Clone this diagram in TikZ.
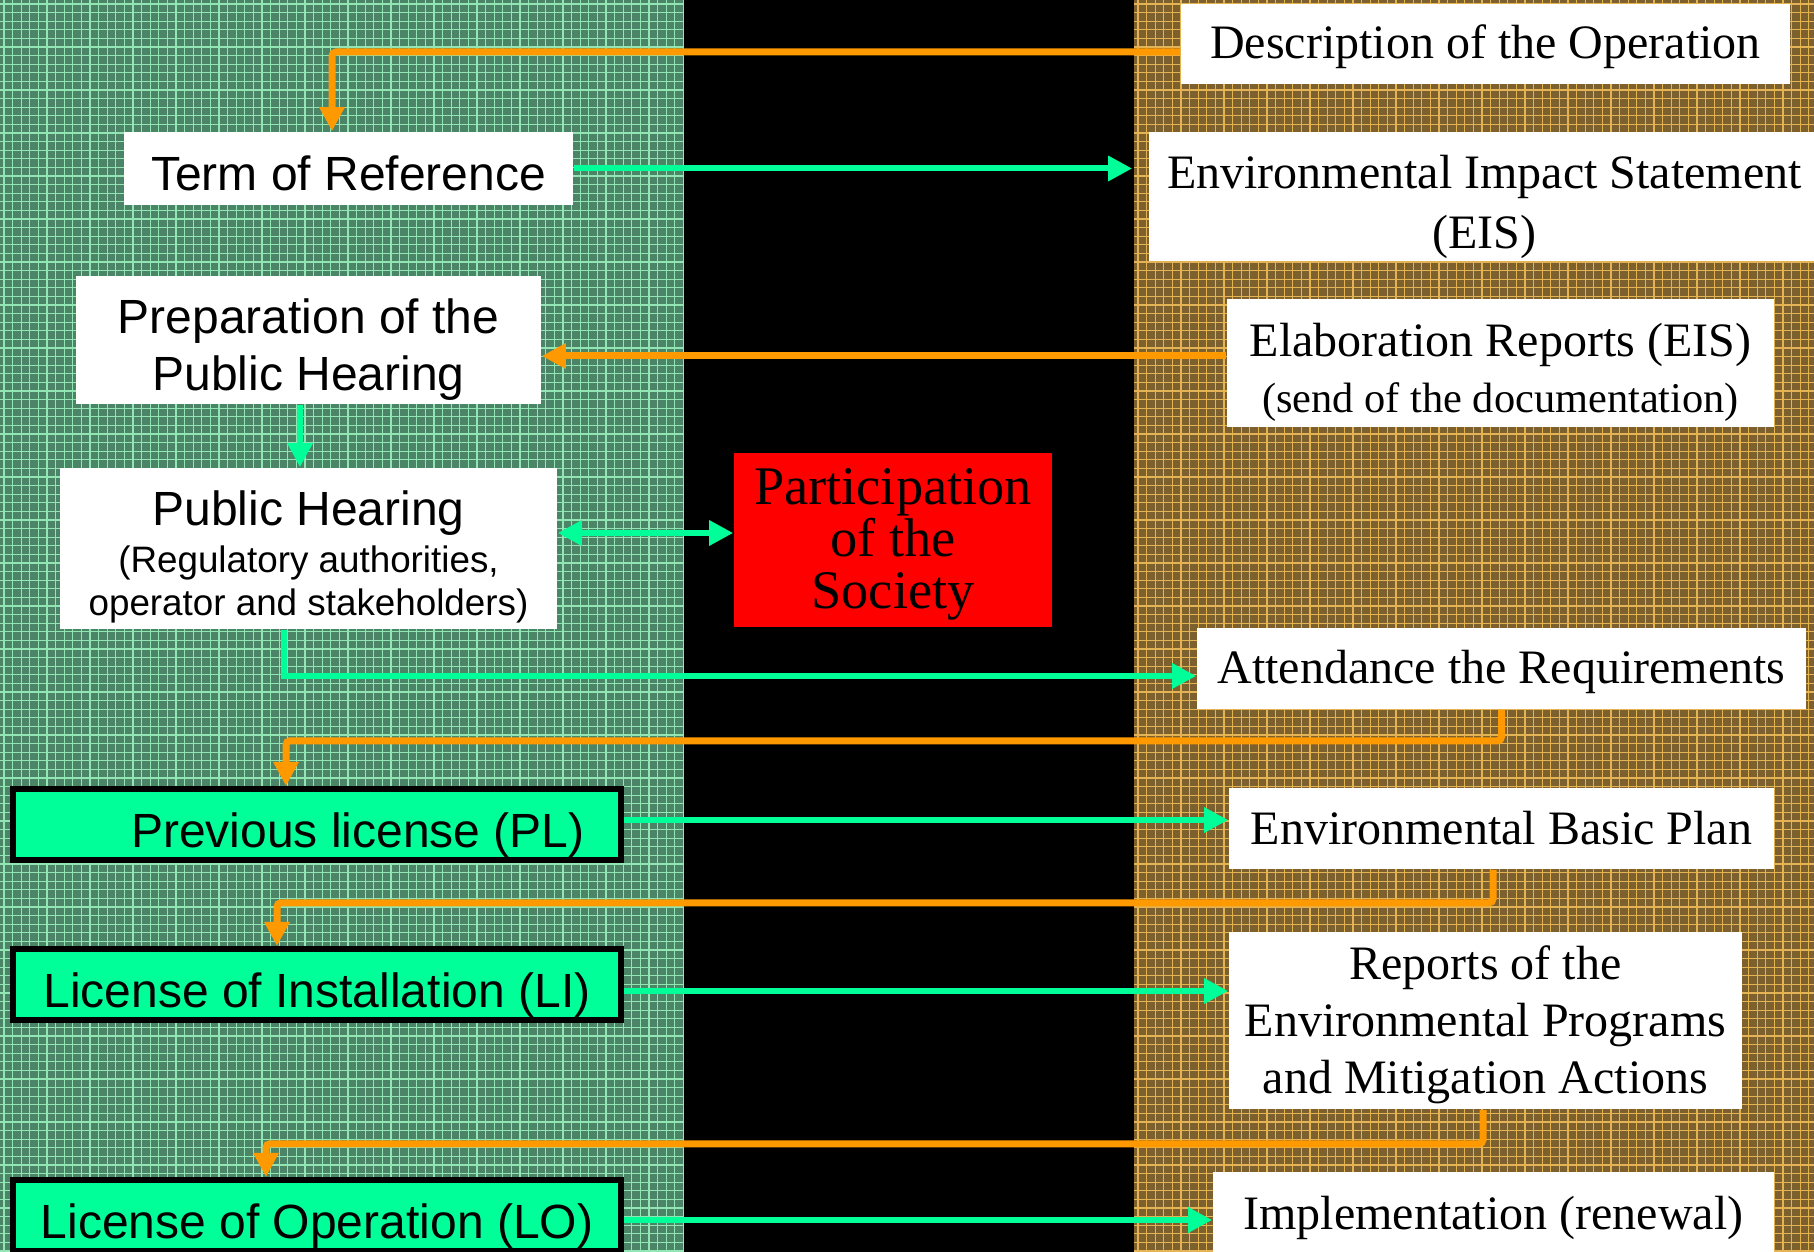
\documentclass[tikz,border=0pt]{standalone}
\usepackage{fontspec}
\setmainfont{Liberation Serif}
\setsansfont{Liberation Sans}
\usetikzlibrary{arrows.meta, positioning, calc}
\definecolor{gridgreen}{RGB}{76,132,104}
\definecolor{gridgreenline}{RGB}{145,230,180}
\definecolor{gridbrown}{RGB}{124,97,47}
\definecolor{gridbrownline}{RGB}{228,180,84}
\definecolor{flowgreen}{RGB}{0,255,153}
\definecolor{floworange}{RGB}{255,153,0}
\newlength\pxu
\setlength\pxu{0.25pt}
\newcommand\liftrule[1]{\rule{0pt}{#1}}

\begin{document}
\begin{tikzpicture}[x=0.25pt, y=-0.25pt,
  lbox/.style={rectangle, fill=white, inner sep=0pt, align=center,
               font=\sffamily\fontsize{12}{14.25}\selectfont},
  rbox/.style={rectangle, fill=white, inner sep=0pt, align=center,
               font=\rmfamily\fontsize{12}{14.25}\selectfont},
  licbox/.style={rectangle, fill=flowgreen, draw=black, line width=1.5pt, inner sep=0pt,
                 minimum width=608\pxu, minimum height=71\pxu,
                 font=\sffamily\fontsize{12}{14.25}\selectfont},
  garr/.style={draw=flowgreen, line width=1.5pt, -{Triangle[length=6pt, width=6pt]}},
  oarr/.style={draw=floworange, line width=1.75pt, rounded corners=1pt,
               -{Triangle[length=6pt, width=6pt]}},
  gline/.style={gridgreenline, line width=0.3pt},
  bline/.style={gridbrownline, line width=0.3pt}
]
  \useasboundingbox (0,0) rectangle (1814,1252);
  \clip (0,0) rectangle (1814,1252);

  % Background bands
  \fill[gridgreen] (0,0) rectangle (684,1252);
  \fill[black] (684,0) rectangle (1134,1252);
  \fill[gridbrown] (1134,0) rectangle (1814,1252);
  \foreach \gx in {4,12.6,...,684} \draw[gline] (\gx,0) -- (\gx,1252);
  \foreach \gx in {1138,1146.6,...,1814} \draw[bline] (\gx,0) -- (\gx,1252);
  \foreach \gy in {4,12.6,...,1252} {
    \draw[gline] (0,\gy) -- (684,\gy);
    \draw[bline] (1134,\gy) -- (1814,\gy);
  }

  % Left column
  \node[lbox, minimum width=449\pxu, minimum height=73\pxu] (term) at (348.5,168.5) {\liftrule{11.1pt}Term of Reference};
  \node[lbox, minimum width=465\pxu, minimum height=128\pxu] (prep) at (308.5,340) {\liftrule{13.7pt}Preparation of the\\Public Hearing};
  \node[lbox, minimum width=497\pxu, minimum height=161\pxu,
        font=\sffamily\fontsize{9.2}{10.75}\selectfont] (hear) at (308.5,548.5)
        {{\fontsize{12}{14.25}\selectfont\liftrule{13.1pt}Public Hearing}\\[1pt](Regulatory authorities,\\operator and stakeholders)};
  \node[licbox] (pl) at (317,824.5) {\liftrule{14pt}\hspace*{82\pxu}Previous license (PL)};
  \node[licbox] (li) at (317,984.5) {\liftrule{14pt}License of Installation (LI)};
  \node[licbox] (lo) at (317,1215.5) {\liftrule{14pt}License of Operation (LO)};

  % Middle
  \node[rectangle, fill=red, minimum width=318\pxu, minimum height=174\pxu, inner sep=0pt,
        align=center, font=\rmfamily\fontsize{13.6}{13}\selectfont] (society) at (893,540)
        {\liftrule{11.3pt}Participation\\of the\\Society};

  % Right column
  \node[rbox, minimum width=609\pxu, minimum height=80\pxu] (desc) at (1485.5,44) {\liftrule{9.9pt}Description of the Operation};
  \node[rbox, minimum width=671\pxu, minimum height=129\pxu,
        font=\rmfamily\fontsize{12}{15}\selectfont] (eis) at (1484.5,196.5) {\liftrule{13.4pt}Environmental Impact Statement\\(EIS)};
  \node[rbox, minimum width=547\pxu, minimum height=128\pxu,
        font=\rmfamily\fontsize{10.6}{14}\selectfont] (elab) at (1500.5,363)
        {{\fontsize{12}{14.25}\selectfont\liftrule{12.8pt}Elaboration Reports (EIS)}\\(send of the documentation)};
  \node[rbox, minimum width=609\pxu, minimum height=81\pxu] (attend) at (1501.5,668.5) {\liftrule{9.9pt}Attendance the Requirements};
  \node[rbox, minimum width=545\pxu, minimum height=81\pxu] (plan) at (1501.5,828.5) {Environmental Basic Plan};
  \node[rbox, minimum width=513\pxu, minimum height=177\pxu] (reports) at (1485.5,1020.5)
        {\liftrule{10.5pt}Reports of the\\Environmental Programs\\and Mitigation Actions};
  \node[rbox, minimum width=561\pxu, minimum height=80\pxu] (impl) at (1493.5,1212) {\liftrule{11.1pt}Implementation (renewal)};

  % Connectors
  \draw[oarr] ($(desc.west)+(0,8)$) -| ($(term.north)+(-16.5,0)$);
  \draw[garr, shorten >=4pt] (term.east) -- (term.east -| eis.west);
  \draw[oarr] ($(elab.west)+(0,-7)$) -- ($(prep.east)+(0,16)$);
  \draw[garr] ($(prep.south)+(-8.5,0)$) -- ($(hear.north)+(-8.5,0)$);
  \draw[garr, {Triangle[length=6pt, width=6pt]}-{Triangle[length=6pt, width=6pt]}]
    ($(hear.east)+(0,-15.5)$) -- ($(society.west)+(0,-7)$);
  \draw[garr] ($(hear.south)+(-24.5,0)$) |- ($(attend.west)+(0,7.5)$);
  \draw[oarr] (attend.south) -- ++(0,31) -| ($(pl.north)+(-31,0)$);
  \draw[garr] ($(pl.east)+(0,-4.5)$) -- ($(plan.west)+(0,-8.5)$);
  \draw[oarr] ($(plan.south)+(-8.5,0)$) -- ++(0,33) -| ($(li.north)+(-40,0)$);
  \draw[garr] ($(li.east)+(0,6.5)$) -- ($(reports.west)+(0,-29.5)$);
  \draw[oarr] ($(reports.south)+(-2.5,0)$) -- ++(0,34) -| ($(lo.north)+(-51,0)$);
  \draw[garr] ($(lo.east)+(0,4.5)$) -- ($(impl.west)+(0,8)$);
\end{tikzpicture}
\end{document}
